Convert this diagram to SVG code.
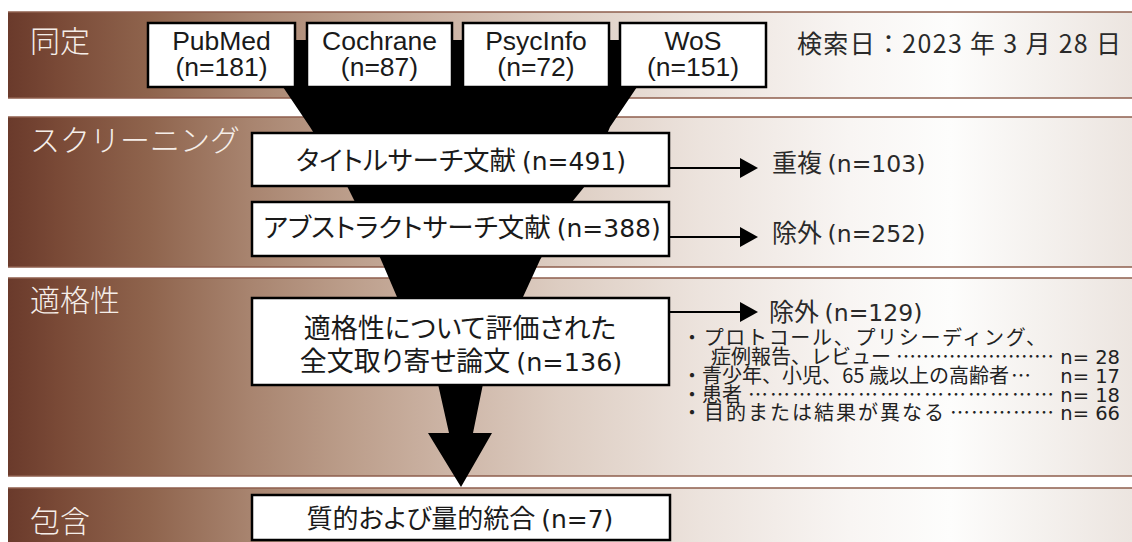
<svg xmlns="http://www.w3.org/2000/svg" width="1132" height="542" viewBox="0 0 1132 542">
<defs>
<linearGradient id="bandGrad" gradientUnits="userSpaceOnUse" x1="8" y1="0" x2="1132" y2="0">
<stop offset="0" stop-color="#6a3a2b"/>
<stop offset="0.046" stop-color="#7a4a37"/>
<stop offset="0.126" stop-color="#8f644d"/>
<stop offset="0.215" stop-color="#a8846f"/>
<stop offset="0.304" stop-color="#bc9e8b"/>
<stop offset="0.393" stop-color="#cdb5a6"/>
<stop offset="0.491" stop-color="#ddcdc2"/>
<stop offset="0.616" stop-color="#ece3dd"/>
<stop offset="0.749" stop-color="#f8f5f3"/>
<stop offset="0.838" stop-color="#fdfdfc"/>
<stop offset="1" stop-color="#ece5e0"/>
</linearGradient>
<style>
.band{fill:url(#bandGrad)}
.bline{stroke:#8e5e4c;stroke-width:1.5;fill:none}
.box{fill:#fff;stroke:#000;stroke-width:2.5}
.lbl{font-family:"Noto Sans CJK JP",sans-serif;font-size:30px;fill:#f5eee9;font-weight:300}
.src{font-family:"Liberation Sans",Arial,sans-serif;font-size:26.5px;fill:#1a1a1a;text-anchor:middle}
.jp{font-family:"Noto Sans CJK JP",sans-serif;font-feature-settings:"palt" 1;fill:#1a1a1a}
.lat{font-family:"DejaVu Sans",sans-serif}
.side{font-family:"Noto Sans CJK JP",sans-serif;font-size:25px;fill:#2a2a2a}
.list{font-family:"Noto Sans CJK JP",sans-serif;font-size:20px;fill:#222}
.num{font-family:"DejaVu Sans",sans-serif;font-size:19.5px;fill:#222;text-anchor:end}
.conn{stroke:#000;stroke-width:2;fill:none}
.head{fill:#000}
</style>
</defs>

<g id="bands">
<rect class="band" x="8" y="12" width="1130" height="86"/>
<line class="bline" x1="8" y1="12" x2="1132" y2="12"/>
<line class="bline" x1="8" y1="98" x2="1132" y2="98"/>
<rect class="band" x="8" y="117" width="1130" height="150"/>
<line class="bline" x1="8" y1="117" x2="1132" y2="117"/>
<line class="bline" x1="8" y1="267" x2="1132" y2="267"/>
<rect class="band" x="8" y="278" width="1130" height="198"/>
<line class="bline" x1="8" y1="278" x2="1132" y2="278"/>
<line class="bline" x1="8" y1="476" x2="1132" y2="476"/>
<rect class="band" x="8" y="488" width="1130" height="60"/>
<line class="bline" x1="8" y1="488" x2="1132" y2="488"/>
<text class="lbl" x="30" y="52">同定</text>
<text class="lbl" x="30" y="151">スクリーニング</text>
<text class="lbl" x="30" y="311">適格性</text>
<text class="lbl" x="30" y="532">包含</text>
</g>

<g id="funnel">
<polygon fill="#000" points="255,40 283,87 310,127 347,186 355,202 382,262 397,297 523,297 540,260 572,202 585,186 610,127 637,87 665,40"/>
</g>

<g id="connectors">
<polygon class="head" points="438,384 483,384 473,433 492,433 461,487 428,433 449,433"/>
<line class="conn" x1="669" y1="168" x2="742" y2="168"/>
<polygon class="head" points="740,158 758,168 740,178"/>
<line class="conn" x1="669" y1="237" x2="742" y2="237"/>
<polygon class="head" points="740,227 758,237 740,247"/>
<line class="conn" x1="669" y1="312" x2="742" y2="312"/>
<polygon class="head" points="740,302 758,312 740,322"/>
</g>

<g id="node-pubmed">
<rect class="box" x="148" y="23" width="147" height="64"/>
<text class="src" x="221.5" y="50">PubMed</text>
<text class="src" x="221.5" y="76">(n=181)</text>
</g>
<g id="node-cochrane">
<rect class="box" x="307" y="23" width="145" height="64"/>
<text class="src" x="379.5" y="50">Cochrane</text>
<text class="src" x="379.5" y="76">(n=87)</text>
</g>
<g id="node-psycinfo">
<rect class="box" x="463" y="23" width="146" height="64"/>
<text class="src" x="536" y="50">PsycInfo</text>
<text class="src" x="536" y="76">(n=72)</text>
</g>
<g id="node-wos">
<rect class="box" x="620" y="23" width="146" height="64"/>
<text class="src" x="693" y="50">WoS</text>
<text class="src" x="693" y="76">(n=151)</text>
</g>
<g id="search-date">
<text class="side" x="797" y="53" font-size="27" textLength="324">検索日：2023 年 3 月 28 日</text>
</g>

<g id="node-title">
<rect class="box" x="252" y="133" width="417" height="53"/>
<text class="jp" x="461" y="170" font-size="26.5" text-anchor="middle">タイトルサーチ文献 <tspan class="lat" font-size="25">(n=491)</tspan></text>
</g>
<g id="node-abstract">
<rect class="box" x="252" y="202" width="417" height="54"/>
<text class="jp" x="462" y="237" font-size="26.5" text-anchor="middle">アブストラクトサーチ文献 <tspan class="lat" font-size="25">(n=388)</tspan></text>
</g>
<g id="node-fulltext">
<rect class="box" x="252" y="298" width="417" height="87"/>
<text class="jp" x="460" y="337.5" font-size="27" text-anchor="middle">適格性について評価された</text>
<text class="jp" x="461" y="370.5" font-size="27" text-anchor="middle">全文取り寄せ論文 <tspan class="lat" font-size="25.5">(n=136)</tspan></text>
</g>
<g id="node-included">
<rect class="box" x="252" y="495" width="418" height="45"/>
<text class="jp" x="460" y="528" font-size="26" text-anchor="middle">質的および量的統合 <tspan class="lat" font-size="25">(n=7)</tspan></text>
</g>

<g id="node-duplicates">
<text class="side" x="772" y="172">重複 <tspan class="lat" font-size="23.5">(n=103)</tspan></text>
</g>
<g id="node-excluded-abstract">
<text class="side" x="772" y="241.5">除外 <tspan class="lat" font-size="23.5">(n=252)</tspan></text>
</g>
<g id="node-excluded-fulltext">
<text class="side" x="769" y="321">除外 <tspan class="lat" font-size="23.5">(n=129)</tspan></text>
<text class="list" x="682" y="345" textLength="364">・プロトコール、プリシーディング、</text>
<text class="list" x="711" y="364">症例報告、レビュー</text>
<text class="list" x="896" y="364" textLength="158">……………………</text>
<text class="num" x="1120" y="364">n= 28</text>
<text class="list" x="682" y="383" textLength="327">・青少年、小児、65 歳以上の高齢者</text>
<text class="list" x="1011" y="383">…</text>
<text class="num" x="1120" y="383">n= 17</text>
<text class="list" x="682" y="402">・患者</text>
<text class="list" x="748" y="402" textLength="306">……………………………………</text>
<text class="num" x="1120" y="402">n= 18</text>
<text class="list" x="682" y="420" textLength="262">・目的または結果が異なる</text>
<text class="list" x="950" y="420" textLength="104">……………</text>
<text class="num" x="1120" y="420">n= 66</text>
</g>
</svg>
